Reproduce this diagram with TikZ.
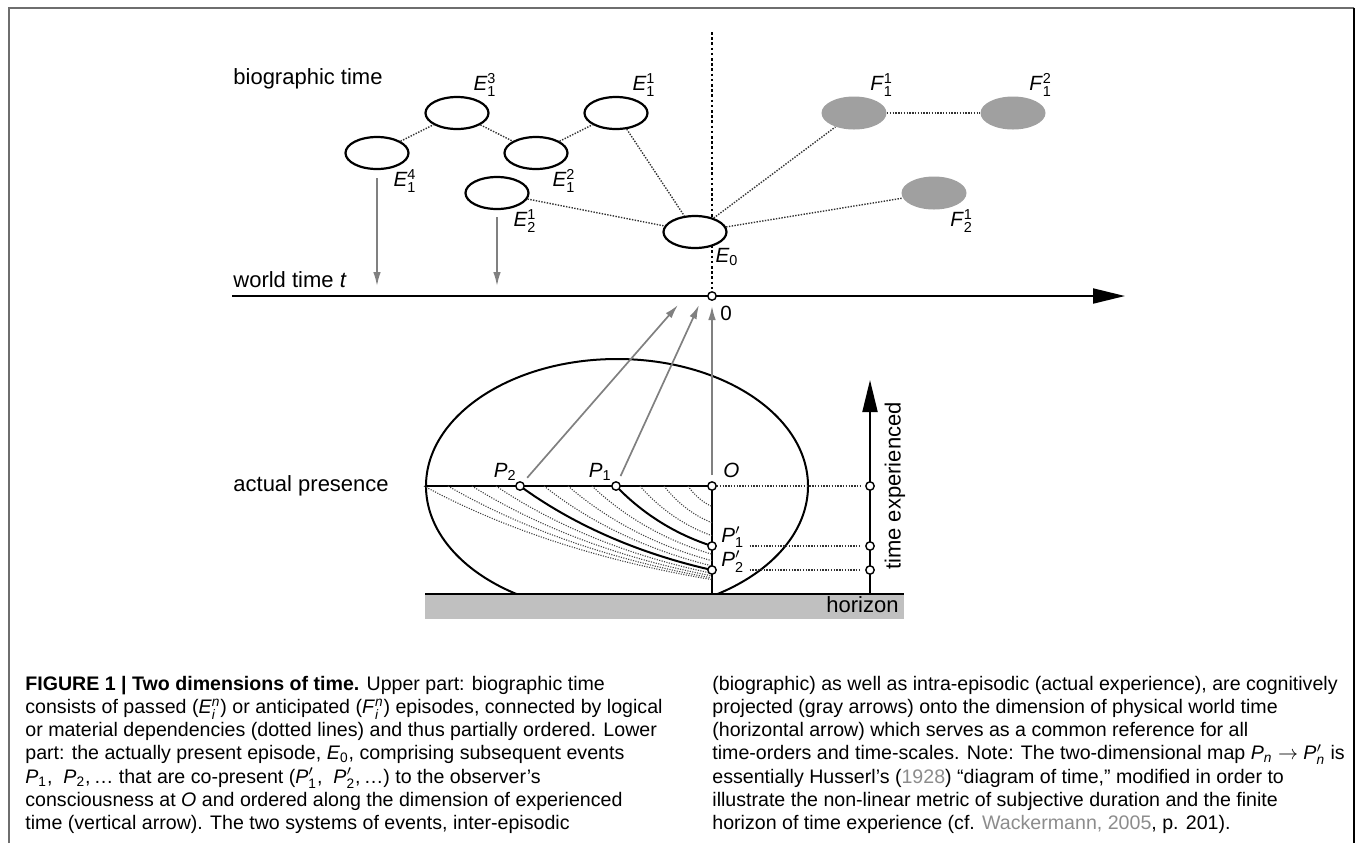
\documentclass[tikz,border=0pt]{standalone}
\usepackage{amsmath}
\usepackage{fontspec}
\setmainfont{Liberation Sans}
\usetikzlibrary{shapes.geometric,arrows.meta}
\definecolor{fillgray}{RGB}{160,160,160}
\definecolor{projgray}{RGB}{128,128,128}
\definecolor{horgray}{RGB}{192,192,192}
\definecolor{framegray}{RGB}{110,110,110}
\definecolor{citegray}{RGB}{140,140,140}
% episode symbols: letter, subscript, superscript
\newcommand\evt[3]{\textit{#1}$^{\text{#3}}_{\text{#2}}$}
\newcommand\evs[2]{\textit{#1}$_{\text{#2}}$}
\newcommand\evp[2]{\textit{#1}$'_{\text{#2}}$}
\begin{document}
\begin{tikzpicture}[x=0.5pt, y=-0.5pt,
    ep/.style={ellipse, draw, fill=white, line width=1.1pt, minimum width=31.5pt,
      minimum height=16pt, inner sep=0pt},
    fp/.style={ellipse, fill=fillgray, minimum width=32.5pt, minimum height=16.5pt,
      inner sep=0pt},
    elab/.style={font=\fontsize{10.3}{12}\selectfont, inner sep=0.5pt},
    lab/.style={font=\fontsize{11}{13}\selectfont, inner sep=0pt, anchor=base west},
    captxt/.style={font=\fontsize{9.8}{12}\selectfont, inner sep=0pt, anchor=base west},
    dep/.style={draw=black!80, line width=0.7pt, dash pattern=on 0.7pt off 0.7pt},
    proj/.style={draw=projgray, line width=0.85pt, -{Latex[length=7pt,width=3.8pt]}},
    pt/.style={circle, draw, fill=white, line width=0.7pt, minimum size=4.2pt, inner sep=0pt},
    hatch/.style={draw=black!75, line width=0.55pt, dash pattern=on 0.55pt off 0.7pt},
    track/.style={draw=black, line width=1pt},
    axis/.style={line width=1pt, -{Triangle[length=16pt,width=7.5pt]}}]
  \useasboundingbox (0,0) rectangle (1355,843);
  % frame (open at the bottom)
  \draw[framegray, line width=1pt] (8.5,843) -- (8.5,7.5) -- (1353.5,7.5);
  \draw[black, line width=1pt] (1353.5,7.5) -- (1353.5,843);

  % ---- world time axis ----------------------------------------------
  \coordinate (wl) at (232,296);
  \coordinate (wr) at (1125,296);
  \coordinate (nowtop) at (712,32);
  \draw[axis] (wl) -- (wr);
  \draw[line width=1.4pt, dash pattern=on 1.3pt off 1.3pt] (nowtop) -- (712,296);
  \node[pt] (w0) at (712,296) {};
  \node[elab, anchor=base west] at (719,320) {0};
  \node[lab] at (233,84) {biographic time};
  \node[lab] at (233,287) {world time \textit{t}};

  % ---- episodes -----------------------------------------------------
  \node[ep, label={[elab]-45:\evt{E}{1}{4}}] (e14) at (377,153) {};
  \node[ep, label={[elab]45:\evt{E}{1}{3}}]  (e13) at (457,113) {};
  \node[ep, label={[elab]-45:\evt{E}{1}{2}}] (e12) at (536,153) {};
  \node[ep, label={[elab]45:\evt{E}{1}{1}}]  (e11) at (616,113) {};
  \node[ep, label={[elab]-45:\evt{E}{2}{1}}] (e21) at (497,193) {};
  \node[ep, label={[elab, xshift=2pt]-45:\evs{E}{0}}] (e0) at (695,232) {};
  \node[fp, label={[elab]45:\evt{F}{1}{1}}]  (f11) at (854,113) {};
  \node[fp, label={[elab]45:\evt{F}{1}{2}}]  (f12) at (1013,113) {};
  \node[fp, label={[elab]-45:\evt{F}{2}{1}}] (f21) at (934,193) {};
  % dependencies
  \draw[dep] (e14) -- (e13);
  \draw[dep] (e13) -- (e12);
  \draw[dep] (e12) -- (e11);
  \draw[dep] (e11) -- (e0);
  \draw[dep] (e21) -- (e0);
  \draw[dep] (e0) -- (f11);
  \draw[dep] (e0) -- (f21);
  \draw[dep] (f11) -- (f12);
  % projections onto world time
  \draw[proj, shorten <=4pt, shorten >=5pt] (e14.south) -- (e14.south |- w0);
  \draw[proj, shorten <=3.5pt, shorten >=5pt] (e21.south) -- (e21.south |- w0);

  % ---- actual presence ----------------------------------------------
  \fill[horgray] (425,594) rectangle (904,619);
  \draw[line width=1pt] (425,594) -- (904,594);
  \node[lab, anchor=base east] at (899,612) {horizon};
  \begin{scope}
    \clip (400,340) rectangle (830,594);
    \draw[line width=1pt] (617,486) ellipse [x radius=191, y radius=127];
  \end{scope}
  \draw[track] (426,486) -- (712,486) -- (712,594);
  \node[lab] at (233,491) {actual presence};
  % retention curves, one every 24 units along the presence line
  \foreach \k/\sty in {1/hatch,2/hatch,3/hatch,4/track,5/hatch,6/hatch,
      7/hatch,8/track,9/hatch,10/hatch,11/hatch,12/hatch}{
    \pgfmathsetmacro\d{24*\k}
    \pgfmathsetmacro\f{100*(1-0.4^(\k/4))}
    \draw[\sty] (712-\d,486) .. controls (712-0.7*\d,486+0.5*\f)
      and (712-0.35*\d,486+0.82*\f) .. (712,486+\f);
  }
  \node[pt] (p2) at (520,486) {};
  \node[pt] (p1) at (616,486) {};
  \node[pt] (o) at (712,486) {};
  \node[pt] (p1d) at (712,546) {};
  \node[pt] (p2d) at (712,570) {};
  \node[elab, anchor=base east] at (518,477) {\evs{P}{2}};
  \node[elab, anchor=base east] at (613,477) {\evs{P}{1}};
  \node[elab, anchor=base west] at (722,477) {\textit{O}};
  \node[elab, anchor=base west] (lp1d) at (720,542) {\evp{P}{1}};
  \node[elab, anchor=base west] (lp2d) at (720,566) {\evp{P}{2}};
  % projections of the present onto world time
  \coordinate (a2) at (678,305);
  \coordinate (a1) at (699,305);
  \coordinate (a0) at (712,306);
  \draw[proj, shorten <=3pt] (p2) -- (a2);
  \draw[proj, shorten <=3pt] (p1) -- (a1);
  \draw[proj, shorten <=3pt] (o) -- (a0);

  % ---- experienced time ---------------------------------------------
  \coordinate (tb) at (870,594);
  \coordinate (tt) at (870,380);
  \draw[axis] (tb) -- (tt);
  \node[pt] (te0) at (870,486) {};
  \node[pt] (te1) at (870,546) {};
  \node[pt] (te2) at (870,570) {};
  \draw[dep, shorten >=2pt] (o) -- (te0);
  \draw[dep, shorten <=2pt, shorten >=2pt] (lp1d.east |- te1) -- (te1);
  \draw[dep, shorten <=2pt, shorten >=2pt] (lp2d.east |- te2) -- (te2);
  \node[lab, rotate=90, anchor=center] at (895,486) {time experienced};

  % ---- caption ------------------------------------------------------
  \node[captxt] at (25,690)   {\textbf{FIGURE 1 | Two dimensions of time.} Upper part: biographic time};
  \node[captxt] at (25,713.3) {consists of passed (\evt{E}{\textit{i}}{\textit{n}}) or anticipated (\evt{F}{\textit{i}}{\textit{n}}) episodes, connected by logical};
  \node[captxt] at (25,736.6) {or material dependencies (dotted lines) and thus partially ordered. Lower};
  \node[captxt] at (25,759.9) {part: the actually present episode, \evs{E}{0}, comprising subsequent events};
  \node[captxt] at (25,783.2) {\evs{P}{1},\ \ \evs{P}{2},\,\ldots\ that are co-present (\evp{P}{1},\ \ \evp{P}{2},\,\ldots) to the observer’s};
  \node[captxt] at (25,806.5) {consciousness at \textit{O} and ordered along the dimension of experienced};
  \node[captxt] at (25,829.8) {time (vertical arrow). The two systems of events, inter-episodic};
  \node[captxt] at (712,690)   {(biographic) as well as intra-episodic (actual experience), are cognitively};
  \node[captxt] at (712,713.3) {projected (gray arrows) onto the dimension of physical world time};
  \node[captxt] at (712,736.6) {(horizontal arrow) which serves as a common reference for all};
  \node[captxt] at (712,759.9) {time-orders and time-scales. Note: The two-dimensional map \evs{P}{\textit{n}} $\rightarrow$ \evp{P}{\textit{n}} is};
  \node[captxt] at (712,783.2) {essentially Husserl’s ({\color{citegray}1928}) “diagram of time,” modified in order to};
  \node[captxt] at (712,806.5) {illustrate the non-linear metric of subjective duration and the finite};
  \node[captxt] at (712,829.8) {horizon of time experience (cf. {\color{citegray}Wackermann, 2005}, p. 201).};
\end{tikzpicture}
\end{document}
